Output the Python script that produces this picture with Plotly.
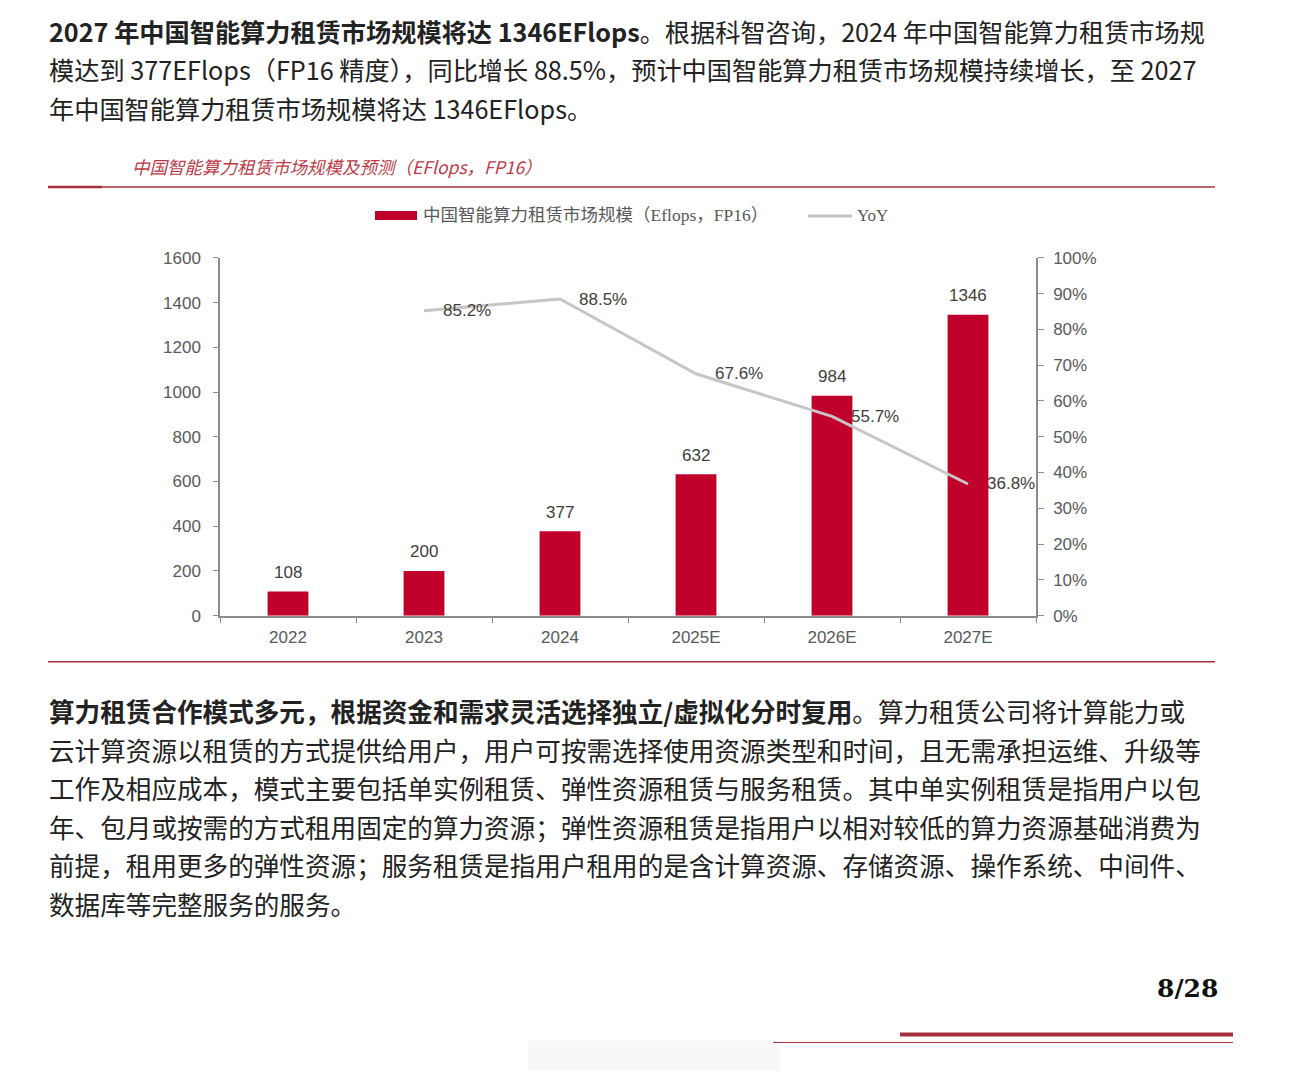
import plotly.graph_objects as go

# chart data
years = ["2022", "2023", "2024", "2025E", "2026E", "2027E"]
scale = [108, 200, 377, 632, 984, 1346]
yoy_years = ["2023", "2024", "2025E", "2026E", "2027E"]
yoy = [85.2, 88.5, 67.6, 55.7, 36.8]

bar_name = "中国智能算力租赁市场规模（Eflops，FP16）"
chart_title = "中国智能算力租赁市场规模及预测（EFlops，FP16）"

para1 = [
    "<b>2027 年中国智能算力租赁市场规模将达 1346EFlops</b>。根据科智咨询，2024 年中国智能算力租赁市场规",
    "模达到 377EFlops（FP16 精度），同比增长 88.5%，预计中国智能算力租赁市场规模持续增长，至 2027",
    "年中国智能算力租赁市场规模将达 1346EFlops。",
]
para2 = [
    "<b>算力租赁合作模式多元，根据资金和需求灵活选择独立/虚拟化分时复用</b>。算力租赁公司将计算能力或",
    "云计算资源以租赁的方式提供给用户，用户可按需选择使用资源类型和时间，且无需承担运维、升级等",
    "工作及相应成本，模式主要包括单实例租赁、弹性资源租赁与服务租赁。其中单实例租赁是指用户以包",
    "年、包月或按需的方式租用固定的算力资源；弹性资源租赁是指用户以相对较低的算力资源基础消费为",
    "前提，租用更多的弹性资源；服务租赁是指用户租用的是含计算资源、存储资源、操作系统、中间件、",
    "数据库等完整服务的服务。",
]
page_no = "8/28"

W, H = 1293, 1084
def px(x):
    return x / W
def py(y):
    # page y (pixels from top) -> paper fraction, corrected for the capture's vertical squeeze
    return 1 - ((y - 8) / 0.983) / H

BAR = "#C0002A"
GREY_LINE = "#C6C6C6"
AXIS = "#8C8C8C"
TXT = "#404040"
DARKRED = "#A8303E"
CJK = "Noto Sans CJK SC"
SANS = "Liberation Sans, Arial, sans-serif"
SERIF = "Liberation Serif, Noto Sans CJK SC, serif"

fig = go.Figure()
fig.add_trace(go.Bar(
    x=years, y=scale, width=0.3, marker=dict(color=BAR, line=dict(width=0)),
    name=bar_name, showlegend=False,
))
fig.add_trace(go.Scatter(
    x=yoy_years, y=yoy, yaxis="y2", mode="lines",
    line=dict(color=GREY_LINE, width=3), name="YoY", showlegend=False,
))

ann = []
for xv, v in zip(years, scale):
    ann.append(dict(x=years.index(xv), y=v, xref="x", yref="y", text=str(v), showarrow=False,
                    xanchor="center", yanchor="middle", yshift=19,
                    font=dict(family=SANS, size=17, color=TXT)))
for xv, v in zip(yoy_years, yoy):
    ann.append(dict(x=years.index(xv), y=v, xref="x", yref="y2", text=f"{v}%", showarrow=False,
                    xanchor="left", yanchor="middle", xshift=17,
                    font=dict(family=SANS, size=17, color=TXT)))

# paragraphs
for i, t in enumerate(para1):
    ann.append(dict(x=px(47), y=py(30 + i * 38.3), xref="paper", yref="paper", text=t,
                    showarrow=False, xanchor="left", yanchor="middle",
                    font=dict(family=CJK, size=25.2, color="#222222")))
for i, t in enumerate(para2):
    ann.append(dict(x=px(47), y=py(710 + i * 38.6), xref="paper", yref="paper", text=t,
                    showarrow=False, xanchor="left", yanchor="middle",
                    font=dict(family=CJK, size=25.6, color="#222222")))

# chart title and legend
ann.append(dict(x=px(130), y=py(166), xref="paper", yref="paper", text=f"<i>{chart_title}</i>",
                showarrow=False, xanchor="left", yanchor="middle",
                font=dict(family=CJK, size=17.5, color="#BD3B47")))
ann.append(dict(x=px(421), y=py(214), xref="paper", yref="paper", text=bar_name,
                showarrow=False, xanchor="left", yanchor="middle",
                font=dict(family=SERIF, size=17.5, color="#595959")))
ann.append(dict(x=px(855), y=py(215), xref="paper", yref="paper", text="YoY",
                showarrow=False, xanchor="left", yanchor="middle",
                font=dict(family=SERIF, size=17, color="#595959")))
ann.append(dict(x=px(1220), y=py(988), xref="paper", yref="paper", text=f"<b>{page_no}</b>",
                showarrow=False, xanchor="right", yanchor="middle",
                font=dict(family="DejaVu Serif, serif", size=25, color="#111111")))

shapes = [
    dict(type="rect", xref="paper", yref="paper", x0=px(375), x1=px(417), y0=py(219), y1=py(210),
         fillcolor=BAR, line=dict(width=0)),
    dict(type="line", xref="paper", yref="paper", x0=px(808), x1=px(852), y0=py(215), y1=py(215),
         line=dict(color=GREY_LINE, width=3)),
    dict(type="line", xref="paper", yref="paper", x0=px(48), x1=px(1215), y0=py(186), y1=py(186),
         line=dict(color=DARKRED, width=1.5)),
    dict(type="line", xref="paper", yref="paper", x0=px(48), x1=px(102), y0=py(186), y1=py(186),
         line=dict(color=DARKRED, width=2.5)),
    dict(type="line", xref="paper", yref="paper", x0=px(48), x1=px(1215), y0=py(661), y1=py(661),
         line=dict(color=DARKRED, width=1.5)),
    dict(type="rect", xref="paper", yref="paper", x0=px(528), x1=px(780), y0=py(1070), y1=py(1040),
         fillcolor="#F4F4F4", opacity=0.6, line=dict(width=0), layer="below"),
    dict(type="line", xref="paper", yref="paper", x0=px(900), x1=px(1233), y0=py(1034), y1=py(1034),
         line=dict(color=DARKRED, width=4)),
    dict(type="line", xref="paper", yref="paper", x0=px(773), x1=px(1233), y0=py(1042), y1=py(1042),
         line=dict(color=DARKRED, width=1)),
]

fig.update_layout(
    width=W, height=H, autosize=False,
    margin=dict(l=0, r=0, t=0, b=0),
    paper_bgcolor="white", plot_bgcolor="white",
    showlegend=False,
    annotations=ann, shapes=shapes,
    xaxis=dict(domain=[px(220), px(1036)], range=[-0.5, 5.5], type="category",
               showline=True, linecolor=AXIS, linewidth=1.5,
               ticks="outside", tickson="boundaries", ticklen=6, tickcolor=AXIS,
               ticklabelstandoff=5,
               tickfont=dict(family=SANS, size=17, color="#595959"), showgrid=False),
    yaxis=dict(domain=[py(615), py(257)], range=[0, 1600], dtick=200,
               showline=True, linecolor=AXIS, linewidth=1.5,
               ticks="outside", ticklen=5, tickcolor=AXIS, showgrid=False, zeroline=False,
               ticklabelstandoff=9,
               tickfont=dict(family=SANS, size=17, color="#595959")),
    yaxis2=dict(overlaying="y", side="right", range=[0, 100], dtick=10, ticksuffix="%",
                showline=True, linecolor=AXIS, linewidth=1.5,
                ticks="outside", ticklen=6, tickcolor=AXIS, showgrid=False, zeroline=False,
                ticklabelstandoff=6,
                tickfont=dict(family=SANS, size=17, color="#595959")),
)

# pin the figure to the page corner so the page is exactly one window tall
pin = (
    "document.documentElement.style.overflow='hidden';"
    "document.body.style.margin='0';document.body.style.overflow='hidden';"
    "var gd=document.getElementById('{plot_id}');"
    "gd.style.position='fixed';gd.style.top='0';gd.style.left='0';"
)
fig.write_html("out.html", config={"displayModeBar": False}, post_script=pin)
